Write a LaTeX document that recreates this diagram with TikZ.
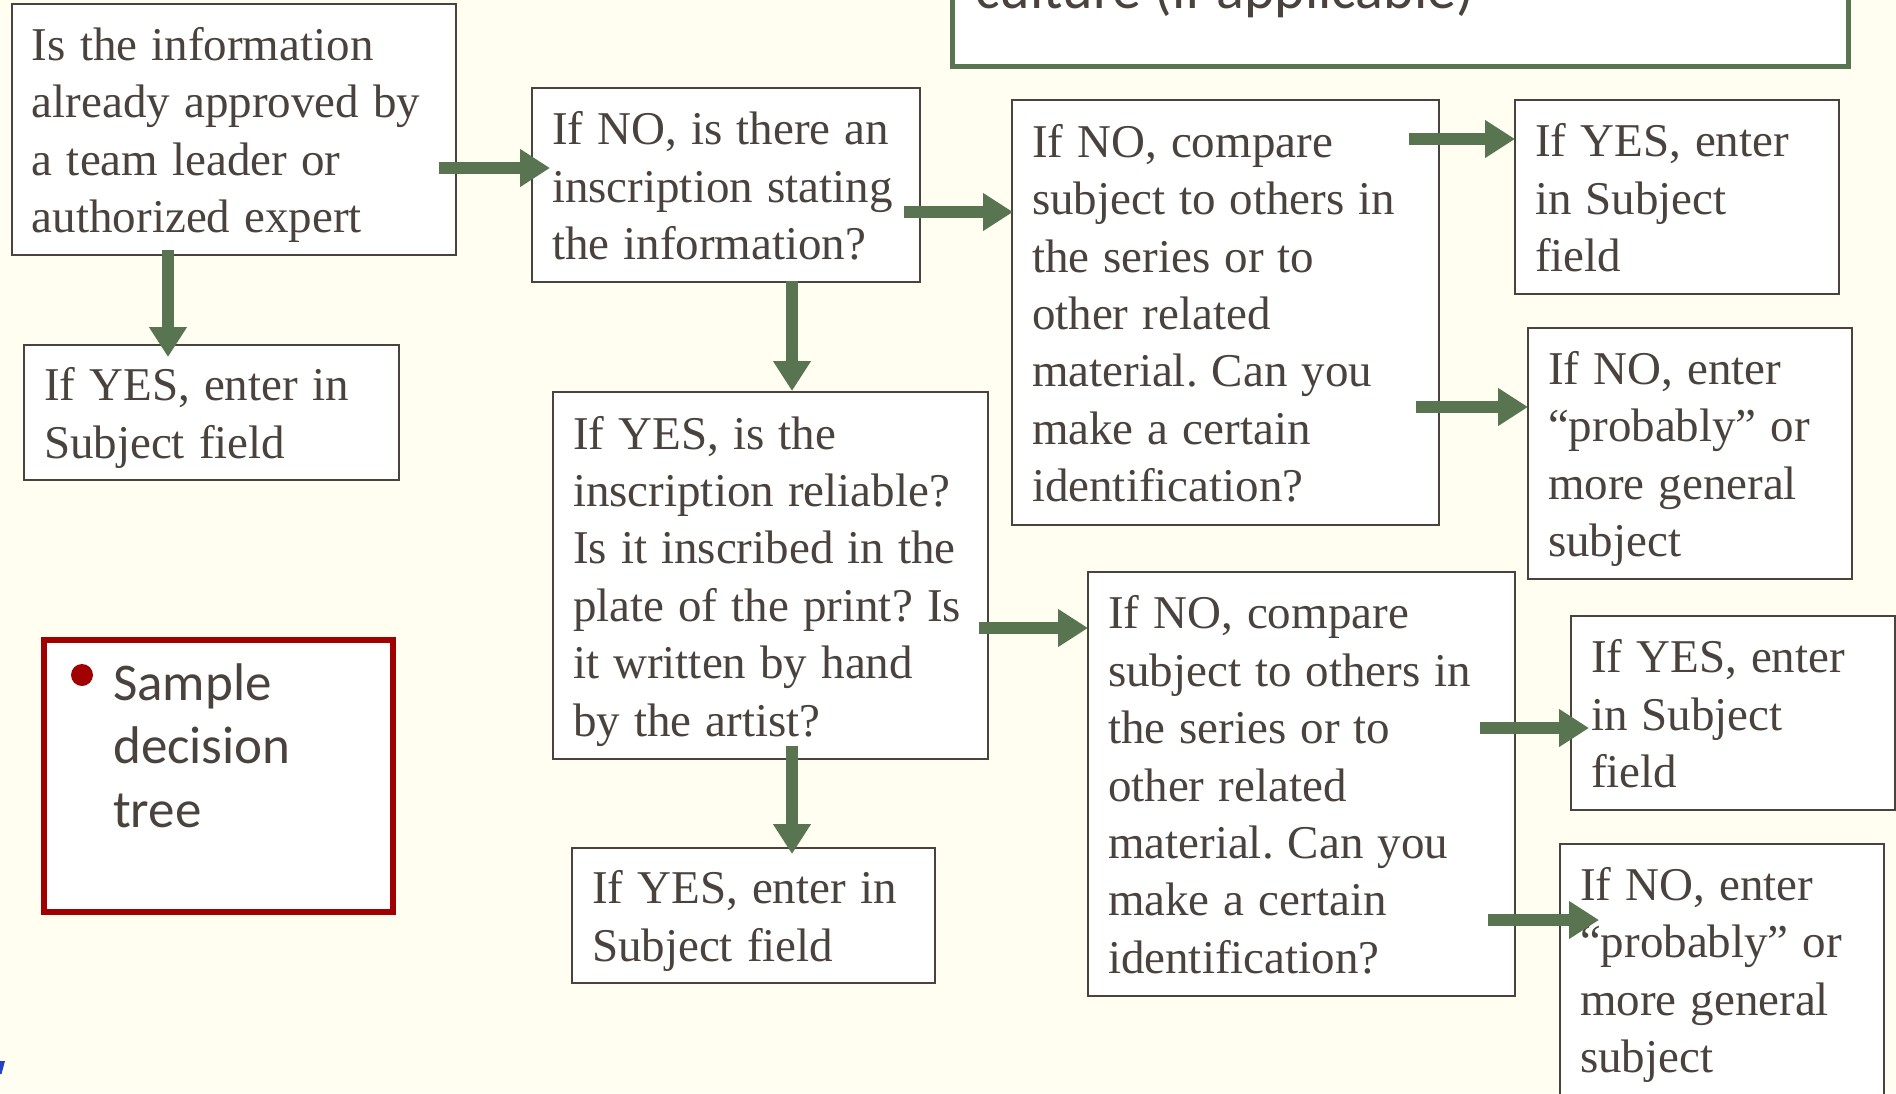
\documentclass[tikz,border=0pt]{standalone}
\usepackage{fontspec}
\setmainfont{Liberation Serif}
\newfontfamily\calibri{Carlito}
\usetikzlibrary{arrows.meta,calc}
\definecolor{paper}{RGB}{255,254,241}
\definecolor{ink}{RGB}{74,66,61}
\definecolor{leaf}{RGB}{88,116,80}
\definecolor{wine}{RGB}{160,0,0}
\definecolor{linkblue}{RGB}{36,64,196}
\def\boxfont{\fontsize{47}{57.4}\selectfont\frenchspacing}
\def\vstrut{\rule[-10.5pt]{0pt}{55pt}}

\begin{document}
\begin{tikzpicture}[x=1pt,y=-1pt,
  qbox/.style={draw=ink,line width=2pt,fill=white,text=ink,anchor=north west,
    align=left,inner sep=0pt,outer sep=0pt,font=\boxfont,
    execute at begin node={\leftskip=20pt\spaceskip=0.3em plus 0.1em\vstrut},execute at end node=\vstrut},
  go/.style={leaf,line width=12pt,-{Triangle[width=36pt,length=30pt]}}]
	%% page
	\useasboundingbox (0,0) rectangle (1896,1093);
	\fill[paper] (0,0) rectangle (1896,1093);
	\clip (0,0) rectangle (1896,1093);
	%% cut-off box on top, note on the left
	\draw[leaf,line width=5pt,fill=white] (952,-200) rectangle (1848,66);
	\node (culture) [anchor=base west,inner sep=0,text=ink,font=\calibri\fontsize{58}{70}\selectfont] at (975,8) {culture (if applicable)};
	\draw[wine,line width=6pt,fill=white] (44,640) rectangle (393,912);
	\fill[wine] (82,675) circle[radius=11];
	\node (note) [anchor=base west,align=left,inner sep=0,text=ink,font=\calibri\fontsize{53}{63.5}\selectfont] at (113,827) {Sample\\decision\\tree};
	\fill[linkblue] (0,1061) -- (5,1061) -- (1.5,1074) -- (0,1074) -- cycle;
	%% questions and answers
	\node (approved) [qbox,text width=444pt,minimum height=251pt] at (12,4) {Is the information\\already approved by\\a team leader or\\authorized expert};
	\node (yesA) [qbox,text width=375pt,minimum height=135pt] at (24,345) {If YES, enter in\\Subject field};
	\node (inscr) [qbox,text width=388pt,minimum height=194pt] at (532,88) {If NO, is there an\\inscription stating\\the information?};
	\node (reliable) [qbox,text width=435pt,minimum height=367pt] at (553,392) {If YES, is the\\inscription reliable?\\Is it inscribed in the\\plate of the print? Is\\it written by hand\\by the artist?};
	\node (yesB) [qbox,text width=363pt,minimum height=135pt] at (572,848) {If YES, enter in\\Subject field};
	\node (compA) [qbox,text width=427pt,minimum height=425pt] at (1012,100) {If NO, compare\\subject to others in\\the series or to\\other related\\material. Can you\\make a certain\\identification?};
	\node (yesC) [qbox,text width=324pt,minimum height=194pt] at (1515,100) {If YES, enter\\in Subject\\field};
	\node (probA) [qbox,text width=324pt,minimum height=251pt] at (1528,328) {If NO, enter\\“probably” or\\more general\\subject};
	\node (compB) [qbox,text width=427pt,minimum height=424pt] at (1088,572) {If NO, compare\\subject to others in\\the series or to\\other related\\material. Can you\\make a certain\\identification?};
	\node (yesD) [qbox,text width=324pt,minimum height=194pt] at (1571,616) {If YES, enter\\in Subject\\field};
	\node (probB) [qbox,text width=324pt,minimum height=251pt] at (1560,844) {If NO, enter\\“probably” or\\more general\\subject};
	%% arrows
	\draw[go] ($(approved.east)+(-17,38.5)$) -- ($(inscr.west)+(18,-17)$);
	\draw[go] ($(approved.south)+(-66,-5)$) -- ($(yesA.north)+(-43.5,12)$);
	\draw[go] ($(inscr.east)+(-16,27)$) -- ($(compA.west)+(1,-100.5)$);
	\draw[go] ($(inscr.south)+(66,-1)$) -- ($(reliable.north)+(21.5,-1)$);
	\draw[go] ($(reliable.south)+(21.5,-13)$) -- ($(yesB.north)+(38.5,6)$);
	\draw[go] ($(reliable.east)+(-9,52.5)$) -- ($(compB.west)+(0,-156)$);
	\draw[go] ($(compA.east)+(-30,-173.5)$) -- ($(yesC.west)+(0,-58)$);
	\draw[go] ($(compA.east)+(-23,94.5)$) -- ($(probA.west)+(0,-46.5)$);
	\draw[go] ($(compB.east)+(-35,-56)$) -- ($(yesD.west)+(18,15)$);
	\draw[go] ($(compB.east)+(-27,136)$) -- ($(probB.west)+(39,-49.5)$);
\end{tikzpicture}
\end{document}
